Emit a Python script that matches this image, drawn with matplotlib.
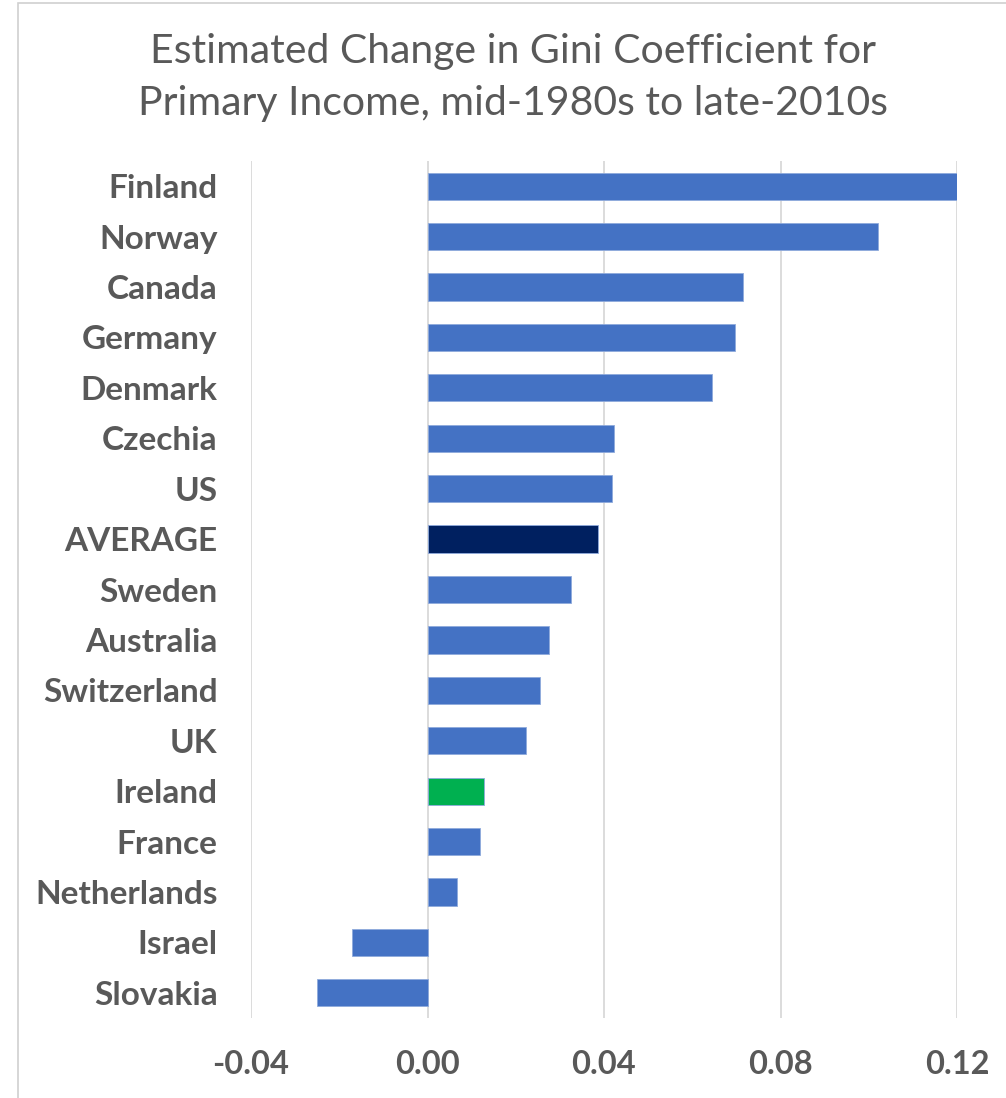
import matplotlib
matplotlib.use("Agg")
import matplotlib.pyplot as plt
from matplotlib.patches import Rectangle

# Change in Gini coefficient (primary income), mid-1980s to late-2010s
countries = [
    "Finland", "Norway", "Canada", "Germany", "Denmark", "Czechia", "US",
    "AVERAGE", "Sweden", "Australia", "Switzerland", "UK", "Ireland",
    "France", "Netherlands", "Israel", "Slovakia",
]
changes = [
    0.120, 0.102, 0.0715, 0.0697, 0.0645, 0.0423, 0.0419,
    0.0387, 0.0326, 0.0276, 0.0256, 0.0224, 0.0127,
    0.0118, 0.0066, -0.0172, -0.0251,
]
xticks = [-0.04, 0.00, 0.04, 0.08, 0.12]
xtick_labels = ["-0.04", "0.00", "0.04", "0.08", "0.12"]

BLUE = "#4472C4"
NAVY = "#002060"
GREEN = "#00B050"
TEXT = "#595959"
GRID = "#D9D9D9"

colors = []
for name in countries:
    if name == "AVERAGE":
        colors.append(NAVY)
    elif name == "Ireland":
        colors.append(GREEN)
    else:
        colors.append(BLUE)

FONT = "Lato"

fig = plt.figure(figsize=(10.06, 10.98), dpi=100)
fig.patch.set_facecolor("white")

# light frame around the chart area
fig.patches.append(Rectangle((18 / 1006, -0.01), 1.0, 1.0 - 3 / 1098 + 0.01,
                             transform=fig.transFigure, fill=False,
                             edgecolor="#D0D0D0", linewidth=1.2))

ax = fig.add_axes([251 / 1006, 1 - 1018 / 1098, (957 - 251) / 1006, (1018 - 161) / 1098])

ypos = list(range(len(countries)))
ax.barh(ypos, changes, height=0.54, color=colors, edgecolor="#8FAADC",
        linewidth=0.6, zorder=3)
ax.set_ylim(len(countries) - 0.5, -0.5)
ax.set_xlim(xticks[0], xticks[-1])

ax.set_xticks(xticks)
ax.set_xticklabels(xtick_labels, fontsize=23.5, fontweight="bold", color=TEXT, family=FONT)
ax.set_yticks(ypos)
ax.set_yticklabels(countries, fontsize=24, fontweight="bold", color=TEXT, family=FONT)
ax.tick_params(axis="both", length=0)
ax.tick_params(axis="x", pad=23)
ax.tick_params(axis="y", pad=24)

ax.grid(axis="x", color=GRID, linewidth=1.3, zorder=0)
ax.set_axisbelow(True)
for spine in ax.spines.values():
    spine.set_visible(False)

fig.text(0.510, 1 - 52 / 1098, "Estimated Change in Gini Coefficient for",
         ha="center", va="center", fontsize=29.5, color=TEXT, family=FONT)
fig.text(0.510, 1 - 104 / 1098, "Primary Income, mid-1980s to late-2010s",
         ha="center", va="center", fontsize=29.5, color=TEXT, family=FONT)

fig.savefig("out.png", dpi=100, facecolor="white")
